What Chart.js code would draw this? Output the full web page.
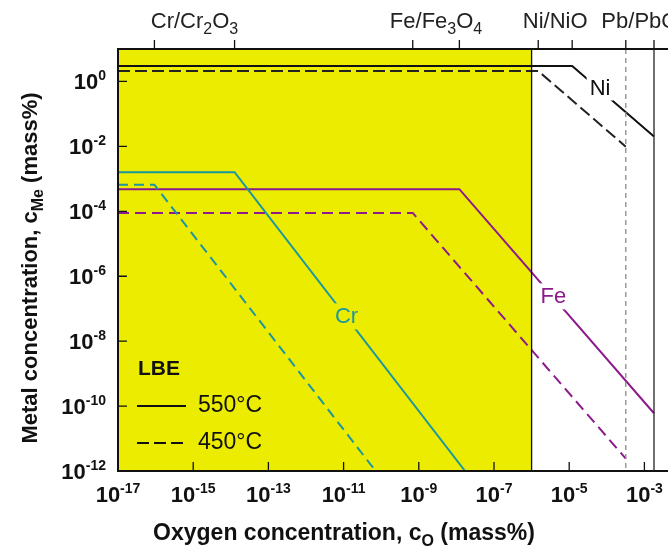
<!DOCTYPE html>
<html>
<head>
<meta charset="utf-8">
<script src="https://cdn.jsdelivr.net/npm/chart.js@4.4.0/dist/chart.umd.min.js"></script>
<style>
  html, body { margin: 0; padding: 0; background: #fff; overflow: hidden; }
  #wrap { width: 668px; height: 548px; overflow: hidden; }
</style>
</head>
<body>
<div id="wrap"><canvas id="chart" width="700" height="548"></canvas></div>
<script>
// oxygen concentration (x) vs metal concentration (y), both mass%
const crX550 = [1e-17, 1.26e-14, 1.7e-8];
const crY550 = [1.6e-3, 1.6e-3, 1e-12];
const crX450 = [1e-17, 9.3e-17, 7.1e-11];
const crY450 = [6.6e-4, 6.6e-4, 1e-12];

const feX550 = [1e-17, 1.2e-8, 1.8e-3];
const feY550 = [4.8e-4, 4.8e-4, 6e-11];
const feX450 = [1e-17, 6.9e-10, 3.2e-4];
const feY450 = [8.9e-5, 8.9e-5, 2.4e-12];

const niX550 = [1e-17, 1.2e-5, 1.8e-3];
const niY550 = [3.0, 3.0, 2.0e-2];
const niX450 = [1e-17, 1.5e-6, 3.2e-4];
const niY450 = [2.1, 2.1, 9.8e-3];

// metal/oxide equilibria on the top axis (450°C and 550°C)
const oxideLabels = ['Cr/Cr_{2}O_{3}', 'Fe/Fe_{3}O_{4}', 'Ni/NiO', 'Pb/PbO'];
const oxideX450 = [9.3e-17, 6.9e-10, 1.5e-6, 3.2e-4];
const oxideX550 = [1.26e-14, 1.2e-8, 1.2e-5, 1.8e-3];

const lbeLimitX = 1e-6; // upper end of the shaded range

const xTicks = [1e-17, 1e-15, 1e-13, 1e-11, 1e-9, 1e-7, 1e-5, 1e-3];
const xTickLabels = ['10^{-17}', '10^{-15}', '10^{-13}', '10^{-11}', '10^{-9}', '10^{-7}', '10^{-5}', '10^{-3}'];
const yTicks = [1, 1e-2, 1e-4, 1e-6, 1e-8, 1e-10, 1e-12];
const yTickLabels = ['10^{0}', '10^{-2}', '10^{-4}', '10^{-6}', '10^{-8}', '10^{-10}', '10^{-12}'];

// series names placed at data coordinates
const seriesNames = ['Cr', 'Fe', 'Ni'];
const nameX = [1.2e-11, 3.8e-6, 6.6e-5];
const nameY = [5.8e-8, 2.4e-7, 0.65];

const FONT = '"Liberation Sans", Arial, sans-serif';
const TEAL = '#1b97a1';
const PURPLE = '#8c1b8c';
const YELLOW = '#ecec00';

function pts(xs, ys) {
    return xs.map((x, i) => ({x: x, y: ys[i]}));
}

function parseRich(str) {
    const parts = [];
    const re = /([_^])\{([^}]*)\}|([^_^]+)/g;
    let m;
    while ((m = re.exec(str))) {
        if (m[3]) parts.push({t: m[3], k: 'n'});
        else parts.push({t: m[2], k: m[1] === '^' ? 'sup' : 'sub'});
    }
    return parts;
}

// draws text with sub/superscripts, y is the main baseline
function drawRich(ctx, str, x, y, o) {
    const parts = parseRich(str);
    const w = o.bold ? 'bold ' : '';
    const fontFor = k => w + (k === 'n' ? o.size : (k === 'sup' ? o.supSize : o.subSize)) + 'px ' + FONT;
    let total = 0;
    parts.forEach(p => {
        ctx.font = fontFor(p.k);
        p.w = ctx.measureText(p.t).width;
        total += p.w;
    });
    let cx = x;
    if (o.align === 'center') cx = x - total / 2;
    if (o.align === 'right') cx = x - total;
    ctx.fillStyle = o.color || '#111';
    ctx.textAlign = 'left';
    ctx.textBaseline = 'alphabetic';
    parts.forEach(p => {
        ctx.font = fontFor(p.k);
        let dy = 0;
        if (p.k === 'sup') dy = -o.rise;
        if (p.k === 'sub') dy = o.drop;
        ctx.fillText(p.t, cx, y + dy);
        cx += p.w;
    });
    return total;
}

const decor = {
    id: 'decor',
    beforeDatasetsDraw(chart) {
        const {ctx, chartArea: a, scales: {x}} = chart;
        ctx.save();
        ctx.fillStyle = YELLOW;
        const xl = x.getPixelForValue(lbeLimitX);
        ctx.fillRect(a.left, a.top, xl - a.left, a.bottom - a.top);
        ctx.restore();
    },
    afterDatasetsDraw(chart) {
        const {ctx, chartArea: a, scales: {x, y}} = chart;
        ctx.save();

        // boundary of the shaded range
        const xl = x.getPixelForValue(lbeLimitX);
        ctx.strokeStyle = '#111';
        ctx.lineWidth = 1.3;
        ctx.beginPath(); ctx.moveTo(xl, a.top); ctx.lineTo(xl, a.bottom); ctx.stroke();

        // Pb/PbO lines
        const p450 = x.getPixelForValue(oxideX450[3]);
        const p550 = x.getPixelForValue(oxideX550[3]);
        ctx.strokeStyle = '#8a8a8a';
        ctx.setLineDash([5, 4]);
        ctx.beginPath(); ctx.moveTo(p450, a.top); ctx.lineTo(p450, a.bottom); ctx.stroke();
        ctx.setLineDash([]);
        ctx.strokeStyle = '#222';
        ctx.beginPath(); ctx.moveTo(p550, a.top); ctx.lineTo(p550, a.bottom); ctx.stroke();

        // series names
        const nameColors = [TEAL, PURPLE, '#111'];
        seriesNames.forEach((n, i) => {
            const px = x.getPixelForValue(nameX[i]);
            const py = y.getPixelForValue(nameY[i]);
            ctx.font = '22px ' + FONT;
            const tw = ctx.measureText(n).width;
            ctx.fillStyle = px < xl ? YELLOW : '#fff';
            ctx.fillRect(px - tw / 2 - 3, py - 13, tw + 6, 26);
            ctx.fillStyle = nameColors[i];
            ctx.textAlign = 'center';
            ctx.textBaseline = 'middle';
            ctx.fillText(n, px, py + 1);
        });

        // frame
        ctx.strokeStyle = '#111';
        ctx.lineWidth = 2;
        ctx.strokeRect(a.left, a.top, a.right - a.left, a.bottom - a.top);

        // ticks
        ctx.lineWidth = 1.3;
        ctx.beginPath();
        xTicks.forEach(v => {
            const px = x.getPixelForValue(v);
            ctx.moveTo(px, a.bottom); ctx.lineTo(px, a.bottom - 9);
        });
        yTicks.forEach(v => {
            const py = y.getPixelForValue(v);
            ctx.moveTo(a.left, py); ctx.lineTo(a.left + 9, py);
        });
        oxideX450.concat(oxideX550).forEach(v => {
            const px = x.getPixelForValue(v);
            ctx.moveTo(px, a.top); ctx.lineTo(px, a.top - 9);
        });
        ctx.stroke();

        // tick labels
        xTicks.forEach((v, i) => {
            drawRich(ctx, xTickLabels[i], x.getPixelForValue(v), a.bottom + 31,
                {size: 22, supSize: 14, subSize: 14, rise: 9, drop: 0, bold: true, align: 'center'});
        });
        yTicks.forEach((v, i) => {
            drawRich(ctx, yTickLabels[i], a.left - 12, y.getPixelForValue(v) + 8,
                {size: 22, supSize: 14, subSize: 14, rise: 9, drop: 0, bold: true, align: 'right'});
        });

        // oxide labels on top
        oxideLabels.forEach((t, i) => {
            const cx = (x.getPixelForValue(oxideX450[i]) + x.getPixelForValue(oxideX550[i])) / 2;
            drawRich(ctx, t, cx, a.top - 21,
                {size: 22, supSize: 15, subSize: 16, rise: 8, drop: 6, bold: false, align: 'center', color: '#222'});
        });

        // axis titles
        drawRich(ctx, 'Oxygen concentration, c_{O} (mass%)', 344, 540,
            {size: 23, supSize: 15, subSize: 16, rise: 8, drop: 6, bold: true, align: 'center'});
        ctx.translate(37, (a.top + a.bottom) / 2 + 8);
        ctx.rotate(-Math.PI / 2);
        drawRich(ctx, 'Metal concentration, c_{Me} (mass%)', 0, 0,
            {size: 22, supSize: 15, subSize: 16, rise: 8, drop: 6, bold: true, align: 'center'});
        ctx.restore();

        // legend
        ctx.save();
        const lx = a.left + 19;
        ctx.fillStyle = '#111';
        ctx.font = 'bold 21px ' + FONT;
        ctx.textBaseline = 'middle';
        ctx.textAlign = 'left';
        ctx.fillText('LBE', lx + 1, a.top + 320);
        ctx.strokeStyle = '#111';
        ctx.lineWidth = 2;
        ctx.beginPath(); ctx.moveTo(lx, a.top + 357); ctx.lineTo(lx + 49, a.top + 357); ctx.stroke();
        ctx.setLineDash([12, 5]);
        ctx.beginPath(); ctx.moveTo(lx, a.top + 394); ctx.lineTo(lx + 49, a.top + 394); ctx.stroke();
        ctx.font = '23px ' + FONT;
        ctx.fillText('550°C', lx + 61, a.top + 357);
        ctx.fillText('450°C', lx + 61, a.top + 394);
        ctx.restore();
    }
};

const solid = (label, data, color) => ({
    label: label, data: data, borderColor: color, borderWidth: 2,
    showLine: true, pointRadius: 0, fill: false, tension: 0
});
const dashed = (label, data, color, dash) => Object.assign(solid(label, data, color), {borderDash: dash});

new Chart(document.getElementById('chart'), {
    type: 'scatter',
    data: {
        datasets: [
            solid('Cr 550°C', pts(crX550, crY550), TEAL),
            dashed('Cr 450°C', pts(crX450, crY450), TEAL, [10, 6]),
            solid('Fe 550°C', pts(feX550, feY550), PURPLE),
            dashed('Fe 450°C', pts(feX450, feY450), PURPLE, [11, 6]),
            solid('Ni 550°C', pts(niX550, niY550), '#111'),
            dashed('Ni 450°C', pts(niX450, niY450), '#222', [12, 5])
        ]
    },
    options: {
        responsive: false,
        animation: false,
        layout: {padding: {left: 118, top: 49, right: 18, bottom: 77}},
        plugins: {legend: {display: false}, tooltip: {enabled: false}},
        scales: {
            x: {type: 'logarithmic', min: 1e-17, max: 1e-2, display: false},
            y: {type: 'logarithmic', min: 1e-12, max: 10, display: false}
        }
    },
    plugins: [decor]
});
</script>
</body>
</html>
